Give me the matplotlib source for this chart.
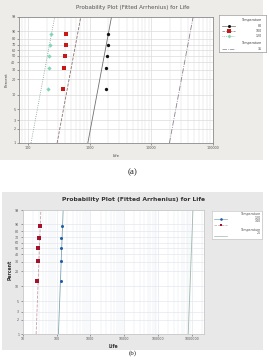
import numpy as np
import matplotlib
matplotlib.use("Agg")
import matplotlib.pyplot as plt
from matplotlib.patches import Rectangle
from matplotlib.ticker import FixedLocator, NullFormatter, LogLocator

# ---------------- data ----------------
pct_ranks = [13.0, 31.5, 50.0, 68.5, 87.0]          # median ranks (%)
pct_ticks = [1, 2, 3, 5, 10, 20, 30, 40, 50, 60, 70, 80, 90, 99]

# panel (a)
a_temps = ["80", "100", "120"]
a_life_80 = [1840, 1863, 1887, 1960, 1980]
a_life_100 = [374, 383, 403, 409, 414]
a_life_120 = [211, 214, 219, 222, 233]
a_eta = {"80": 1806, "100": 573, "120": 216, "35": 38100}   # fitted scale
a_beta = 6.93
a_xticks = [100, 1000, 10000, 100000]
a_xticklabels = ["100", "1000", "10000", "100000"]

# panel (b)
b_temps = ["120", "140"]
b_life_120 = [137, 138, 139, 140, 142]
b_life_140 = [26.5, 27.7, 28.4, 30.4, 31.8]
b_eta = {"140": 31.8, "120": 145, "25": 1.0e6}
b_beta = 19.0
b_xticks = [10, 100, 1000, 10000, 100000, 1000000]
b_xticklabels = ["10", "100", "1000", "10000", "100000", "1000000"]

title = "Probability Plot (Fitted Arrhenius) for Life"

# ---------------- helpers ----------------
W, H = 269, 357
fig = plt.figure(figsize=(W / 100, H / 100), dpi=100)
fig.patch.set_facecolor("white")


def box(x0, y0, x1, y1):
    return [x0 / W, 1 - y1 / H, (x1 - x0) / W, (y1 - y0) / H]


def fx(x):
    return x / W


def fy(y):
    return 1 - y / H


def fwd(p):
    p = np.clip(np.asarray(p, dtype=float), 1e-6, 100 - 1e-6) / 100.0
    return np.log(-np.log(1 - p))


def inv(w):
    return 100 * (1 - np.exp(-np.exp(np.asarray(w, dtype=float))))


def weib_line(eta, beta):
    p = np.linspace(1, 99, 200)
    t = eta * (-np.log(1 - p / 100.0)) ** (1.0 / beta)
    return t, p


# backgrounds
fig.add_artist(Rectangle((0, fy(160)), fx(263), fy(0) - fy(160),
                         transform=fig.transFigure, facecolor="#eeece9",
                         edgecolor="none", zorder=0))
fig.add_artist(Rectangle((fx(2), fy(350)), fx(263) - fx(2), fy(192) - fy(350),
                         transform=fig.transFigure, facecolor="#e8e8e8",
                         edgecolor="none", zorder=0))


def setup_axes(ax, xlim, xticks, xticklabels, gridcol, framecol, tickfs):
    ax.set_xscale("log")
    ax.set_yscale("function", functions=(fwd, inv))
    ax.set_xlim(*xlim)
    ax.set_ylim(1, 99)
    ax.yaxis.set_major_locator(FixedLocator(pct_ticks))
    ax.set_yticklabels([str(v) for v in pct_ticks])
    ax.yaxis.set_minor_locator(FixedLocator([]))
    ax.set_xticks(xticks)
    ax.set_xticklabels(xticklabels)
    ax.xaxis.set_minor_locator(LogLocator(base=10, subs=np.arange(2, 10)))
    ax.xaxis.set_minor_formatter(NullFormatter())
    ax.grid(True, which="major", color=gridcol, lw=0.5, zorder=0)
    ax.grid(True, which="minor", axis="x", color=gridcol, lw=0.35, zorder=0)
    for s in ax.spines.values():
        s.set_color(framecol)
        s.set_linewidth(0.6)
    ax.tick_params(axis="both", which="major", labelsize=tickfs, length=1.5,
                   width=0.4, pad=1, colors="#555555")
    ax.tick_params(axis="x", which="minor", length=0)
    ax.set_facecolor("white")


# ---------------- panel (a) ----------------
axa = fig.add_axes(box(19, 17, 213, 143))
setup_axes(axa, (71, 100000), a_xticks, a_xticklabels, "#dcdcdc", "#8a8a8a", 2.4)

a_style = {
    "80": dict(color="#111111", marker="o", ls="-", lcol="#707070"),
    "100": dict(color="#c81818", marker="s", ls="--", lcol="#8a7070"),
    "120": dict(color="#7fd6b8", marker="D", ls=":", lcol="#7a9a90"),
}
a_data = {"80": a_life_80, "100": a_life_100, "120": a_life_120}
for k in a_temps:
    st = a_style[k]
    t, p = weib_line(a_eta[k], a_beta)
    axa.plot(t, p, ls=st["ls"], color=st["lcol"], lw=0.6, zorder=2)
    axa.plot(a_data[k], pct_ranks, ls="none", marker=st["marker"],
             ms=2.4 if st["marker"] != "D" else 2.2, color=st["color"],
             mew=0, zorder=3)
t, p = weib_line(a_eta["35"], a_beta)
axa.plot(t, p, ls="-.", color="#8c7f8c", lw=0.6, zorder=2)

fig.text(fx(133), fy(7), title, ha="center", va="center", fontsize=4.1,
         color="#555555")
fig.text(fx(116), fy(156), "Life", ha="center", va="center", fontsize=2.8,
         color="#444444")
fig.text(fx(7), fy(80), "Percent", ha="center", va="center", fontsize=2.8,
         color="#444444", rotation=90)

# legend (a)
lga = fig.add_axes(box(219, 15, 266, 52))
lga.set_xlim(219, 266)
lga.set_ylim(52, 15)
lga.set_xticks([]); lga.set_yticks([])
lga.set_facecolor("white")
for s in lga.spines.values():
    s.set_color("#9a9a9a"); s.set_linewidth(0.5)
lfs = 2.3
lga.text(262, 20.5, "Temperature", ha="right", va="center", fontsize=lfs, color="#444444")
for k, yy in zip(a_temps, [25.7, 31.0, 36.3]):
    st = a_style[k]
    lga.plot([222, 235], [yy, yy], ls=st["ls"], color=st["lcol"], lw=0.5)
    lga.plot([228.5], [yy], marker=st["marker"], ms=2.2 if st["marker"] != "D" else 2.0,
             color=st["color"], mew=0, ls="none")
    lga.text(262, yy, k, ha="right", va="center", fontsize=lfs, color="#444444")
lga.text(262, 43.3, "Temperature", ha="right", va="center", fontsize=lfs, color="#444444")
lga.plot([222, 235], [49, 49], ls="-.", color="#8c7f8c", lw=0.5)
lga.text(262, 49, "35", ha="right", va="center", fontsize=lfs, color="#444444")

fig.text(fx(133), fy(172), "(a)", ha="center", va="center", fontsize=6.5,
         family="Liberation Serif", color="#222222")

# ---------------- panel (b) ----------------
axb = fig.add_axes(box(22.7, 210, 204, 334))
setup_axes(axb, (10, 2.3e6), b_xticks, b_xticklabels, "#e3e9ee", "#c8c8c8", 2.3)

b_style = {
    "120": dict(color="#1f5fa8", marker="o", ls="-", lcol="#7fa6b0"),
    "140": dict(color="#a3122c", marker="s", ls="--", lcol="#c8a0a8"),
}
b_data = {"120": b_life_120, "140": b_life_140}
for k in ["140", "120"]:
    st = b_style[k]
    t, p = weib_line(b_eta[k], b_beta)
    axb.plot(t, p, ls=st["ls"], color=st["lcol"], lw=0.6, zorder=2)
    axb.plot(b_data[k], pct_ranks, ls="none", marker=st["marker"], ms=2.2,
             color=st["color"], mew=0, zorder=3)
t, p = weib_line(b_eta["25"], b_beta)
axb.plot(t, p, ls="-", color="#9fb8ad", lw=0.6, zorder=2)

fig.text(fx(133.5), fy(200), title, ha="center", va="center", fontsize=4.3,
         color="#333333", fontweight="bold")
fig.text(fx(113), fy(346), "Life", ha="center", va="center", fontsize=3.3,
         color="#333333", fontweight="bold")
fig.text(fx(10), fy(270), "Percent", ha="center", va="center", fontsize=3.3,
         color="#333333", fontweight="bold", rotation=90)

# legend (b)
lgb = fig.add_axes(box(212, 211, 262, 239))
lgb.set_xlim(212, 262)
lgb.set_ylim(239, 211)
lgb.set_xticks([]); lgb.set_yticks([])
lgb.set_facecolor("white")
for s in lgb.spines.values():
    s.set_color("#c8c8c8"); s.set_linewidth(0.5)
lgb.text(261, 214, "Temperature", ha="right", va="center", fontsize=lfs, color="#555555")
for k, yy, ty in zip(b_temps, [219.3, 224.6], [217.6, 221.3]):
    st = b_style[k]
    lgb.plot([214, 227], [yy, yy], ls=st["ls"], color=st["lcol"], lw=0.5)
    lgb.plot([221], [yy], marker=st["marker"], ms=1.9, color=st["color"], mew=0, ls="none")
    lgb.text(261, ty, k, ha="right", va="center", fontsize=lfs, color="#555555")
lgb.text(261, 230, "Temperature", ha="right", va="center", fontsize=lfs, color="#555555")
lgb.plot([214, 227], [235.7, 235.7], ls="-", color="#9fb8ad", lw=0.5)
lgb.text(261, 233.5, "25", ha="right", va="center", fontsize=lfs, color="#555555")

fig.text(fx(133), fy(353.5), "(b)", ha="center", va="center", fontsize=5.0,
         family="Liberation Serif", color="#222222")

fig.savefig("out.png", dpi=100)
